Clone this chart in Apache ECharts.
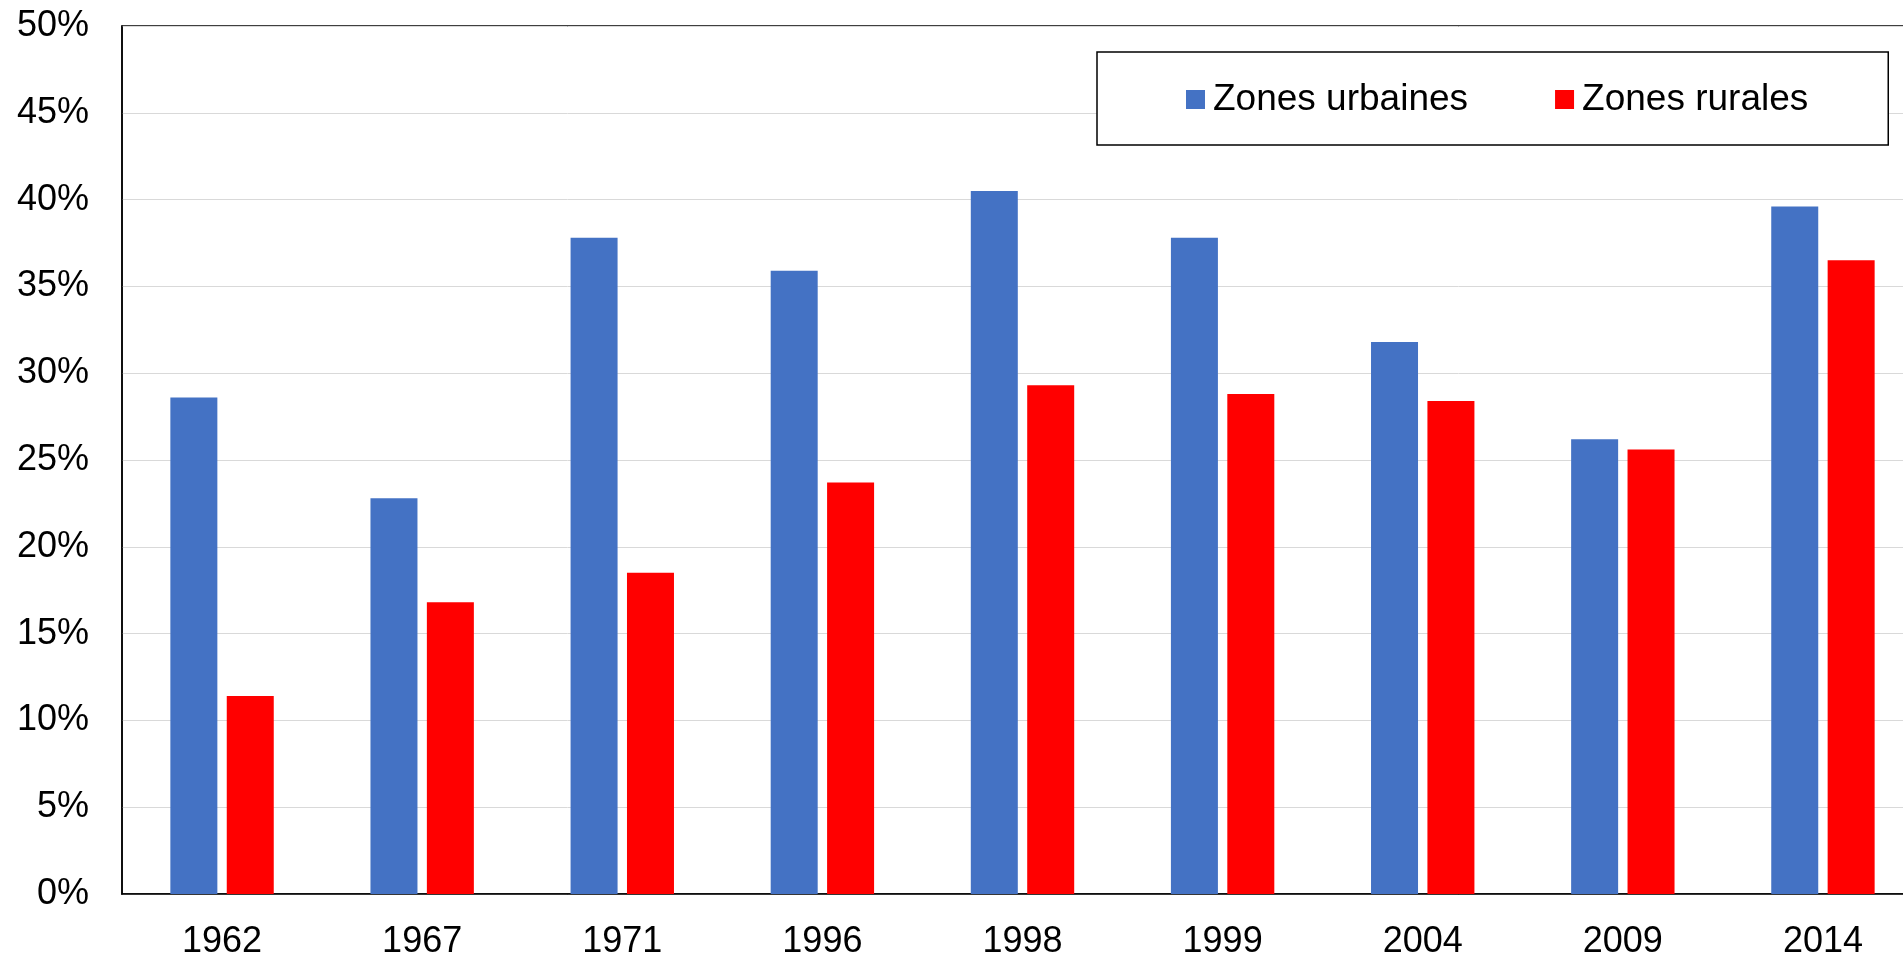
<!DOCTYPE html>
<html>
<head>
<meta charset="utf-8">
<title>Zones urbaines / rurales</title>
<script src="https://cdn.jsdelivr.net/npm/echarts@6/dist/echarts.min.js"></script>
<style>
  html, body { margin: 0; padding: 0; background: #fff; }
  #chart { width: 1903px; height: 955px; }
</style>
</head>
<body>
<div id="chart"></div>
<script>
// années
const years = ['1962', '1967', '1971', '1996', '1998', '1999', '2004', '2009', '2014']
// valeurs en %
const urbaines = [28.6, 22.8, 37.8, 35.9, 40.5, 37.8, 31.8, 26.2, 39.6]
const rurales = [11.4, 16.8, 18.5, 23.7, 29.3, 28.8, 28.4, 25.6, 36.5]
// graduations de l'axe
const yTicks = [0, 5, 10, 15, 20, 25, 30, 35, 40, 45, 50]

const font = "'Liberation Sans', Arial, sans-serif"

let chart = echarts.init(document.getElementById('chart'))
chart.setOption({
  animation: false,
  // la zone de tracé déborde à droite (coupée comme dans l'original)
  grid: {
    left: 122,
    top: 26,
    width: 1801,
    height: 868,
    outerBoundsMode: 'none',
    containLabel: false,
    show: true,
    borderColor: '#000',
    borderWidth: 1.5,
    backgroundColor: 'transparent'
  },
  legend: {
    left: 1097,
    top: 52,
    padding: [29, 80, 27, 89],
    itemGap: 87,
    itemWidth: 19,
    itemHeight: 19,
    icon: 'rect',
    backgroundColor: '#fff',
    borderColor: '#000',
    borderWidth: 1.5,
    textStyle: {
      fontFamily: font,
      fontSize: 37,
      color: '#000',
      padding: [0, 0, 0, 3]
    },
    data: ['Zones urbaines', 'Zones rurales']
  },
  xAxis: {
    type: 'category',
    data: years,
    axisLine: { lineStyle: { color: '#000', width: 1.5 } },
    axisTick: { show: false },
    axisLabel: {
      fontFamily: font,
      fontSize: 36,
      color: '#000',
      margin: 30
    }
  },
  yAxis: {
    type: 'value',
    min: yTicks[0],
    max: yTicks[yTicks.length - 1],
    interval: yTicks[1] - yTicks[0],
    axisLine: { show: true, lineStyle: { color: '#000', width: 1.5 } },
    axisTick: { show: false },
    splitLine: { lineStyle: { color: '#d9d9d9', width: 1 } },
    axisLabel: {
      fontFamily: font,
      fontSize: 36,
      color: '#000',
      margin: 33,
      formatter: '{value}%'
    }
  },
  series: [
    {
      name: 'Zones urbaines',
      type: 'bar',
      data: urbaines,
      barWidth: 47,
      barGap: '20%',
      itemStyle: { color: '#4472c4' }
    },
    {
      name: 'Zones rurales',
      type: 'bar',
      data: rurales,
      barWidth: 47,
      barGap: '20%',
      itemStyle: { color: '#ff0000' }
    }
  ]
})
</script>
</body>
</html>
